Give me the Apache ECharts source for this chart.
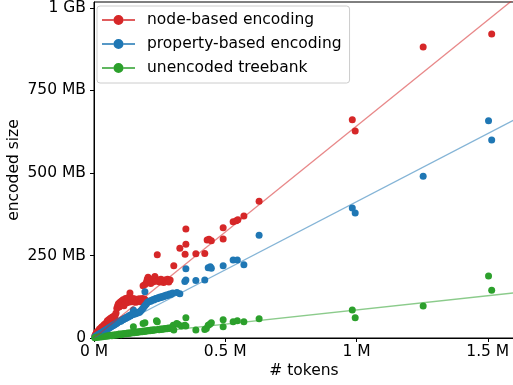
<!DOCTYPE html>
<html>
<head>
<meta charset="utf-8">
<script src="https://cdn.jsdelivr.net/npm/echarts@6/dist/echarts.min.js"></script>
<style>html,body{margin:0;padding:0;background:#fff}#c{width:513px;height:385px}</style>
</head>
<body>
<div id="c"></div>
<script>
// tokens (millions) vs encoded size (MB)
const seriesNames = ['node-based encoding', 'property-based encoding', 'unencoded treebank'];
const seriesColors = ['#d62728', '#1f77b4', '#2ca02c'];
const fitLineColors = ['rgba(214,39,40,0.55)', 'rgba(31,119,180,0.55)', 'rgba(44,160,44,0.55)'];

const nodeBased = [
 [0.003,6],[0.006,11],[0.009,15],[0.012,19],[0.015,16],[0.018,23],[0.021,27],[0.024,25],[0.027,31],[0.030,34],
 [0.033,30],[0.036,37],[0.039,41],[0.042,38],[0.045,44],[0.048,47],[0.051,52],[0.054,49],[0.057,56],[0.060,54],
 [0.063,60],[0.066,58],[0.069,63],[0.072,61],[0.075,66],[0.078,64],[0.081,70],[0.084,76],
 [0.087,90],[0.090,98],[0.093,104],[0.096,94],[0.099,108],[0.102,100],[0.105,112],[0.108,104],[0.111,116],[0.114,98],
 [0.117,110],[0.120,120],[0.123,106],[0.126,114],[0.129,122],[0.132,108],[0.137,136],[0.140,116],[0.144,110],[0.148,120],
 [0.152,112],[0.156,118],[0.160,108],[0.164,116],[0.168,112],[0.172,119],[0.176,110],[0.180,116],[0.184,120],[0.188,112],
 [0.192,118],[0.196,114],
 [0.187,158],[0.194,162],[0.200,170],[0.203,178],[0.206,184],[0.209,168],[0.212,174],[0.216,165],[0.220,176],[0.224,170],
 [0.228,180],[0.232,186],[0.236,172],[0.241,252],[0.245,176],[0.250,170],[0.255,178],[0.260,172],[0.265,168],[0.270,176],
 [0.275,172],[0.280,178],[0.285,170],[0.290,176],
 [0.304,219],[0.327,272],[0.347,254],[0.350,284],[0.350,330],[0.388,255],[0.422,256],[0.431,297],[0.438,299],[0.447,295],
 [0.492,300],[0.492,334],[0.530,352],[0.542,355],[0.548,358],[0.571,370],[0.629,414],[0.984,661],[0.995,627],[1.254,882],
 [1.515,921]
];
const propertyBased = [
 [0.003,3],[0.006,5],[0.009,6],[0.012,8],[0.015,9],[0.018,11],[0.021,12],[0.024,14],[0.027,15],[0.030,17],
 [0.033,18],[0.036,20],[0.039,21],[0.042,23],[0.045,24],[0.048,26],[0.051,27],[0.054,29],[0.057,30],[0.060,32],
 [0.063,33],[0.066,35],[0.069,36],[0.072,38],[0.075,39],[0.078,41],[0.081,42],[0.084,44],[0.087,45],[0.090,47],
 [0.093,49],[0.096,50],[0.099,52],[0.102,51],[0.105,54],[0.108,56],[0.111,55],[0.114,58],[0.117,60],[0.120,59],
 [0.123,62],[0.126,64],[0.129,63],[0.132,66],[0.135,68],[0.138,67],[0.141,70],[0.144,72],[0.150,85],[0.148,71],
 [0.152,74],[0.156,73],[0.160,76],[0.164,75],[0.168,78],[0.172,77],[0.176,80],[0.180,84],[0.184,88],[0.188,92],
 [0.192,96],[0.194,140],[0.196,100],[0.200,104],[0.204,108],[0.208,110],[0.212,112],[0.216,111],[0.220,114],[0.224,116],
 [0.228,115],[0.232,118],[0.236,120],[0.240,119],[0.244,122],[0.248,121],[0.252,124],[0.256,123],[0.260,126],[0.264,125],
 [0.268,128],[0.272,127],[0.276,130],[0.280,129],[0.284,131],[0.288,133],[0.292,132],[0.296,134],[0.300,136],[0.316,138],
 [0.327,134],
 [0.346,171],[0.350,176],[0.350,210],[0.388,174],[0.422,176],[0.435,213],[0.443,216],[0.447,211],[0.492,219],[0.530,236],
 [0.546,236],[0.571,222],[0.629,311],[0.984,394],[0.995,379],[1.254,490],[1.503,658],[1.515,600]
];
const unencoded = [
 [0.003,1],[0.008,2],[0.013,2],[0.018,3],[0.023,3],[0.028,4],[0.033,4],[0.038,5],[0.043,5],[0.048,6],
 [0.053,6],[0.058,7],[0.063,8],[0.068,7],[0.073,9],[0.078,8],[0.083,10],[0.088,9],[0.093,11],[0.098,12],
 [0.103,10],[0.108,13],[0.113,12],[0.118,14],[0.123,13],[0.128,15],[0.133,14],[0.138,16],[0.143,15],[0.148,17],
 [0.150,34],[0.153,16],[0.158,18],[0.163,17],[0.168,19],[0.173,18],[0.178,20],[0.183,19],[0.187,44],[0.188,21],
 [0.193,20],[0.194,46],[0.198,22],[0.203,21],[0.208,23],[0.213,22],[0.218,24],[0.223,23],[0.228,25],[0.233,24],
 [0.238,52],[0.241,49],[0.243,26],[0.248,25],[0.253,27],[0.258,26],[0.263,28],[0.268,27],[0.273,29],[0.278,28],
 [0.283,30],[0.288,29],[0.293,31],[0.298,30],[0.302,39],[0.304,24],[0.315,44],[0.320,42],
 [0.333,36],[0.346,39],[0.350,36],[0.350,61],[0.388,24],[0.422,26],[0.428,29],[0.435,39],[0.441,42],[0.447,46],
 [0.492,55],[0.492,34],[0.530,49],[0.546,52],[0.571,49],[0.629,58],[0.984,85],[0.995,61],[1.254,97],[1.503,188],
 [1.515,145]
];
// linear fits: size = slope * tokens + intercept
const fitSlopes = [642, 413, 86];
const fitIntercepts = [0, 0, -1];

const xTicks = [0, 0.5, 1, 1.5];
const yTicks = [0, 250, 500, 750, 1000];
const xMax = 1.6, yMax = 1018;

const FONT = 'DejaVu Sans';
const FS = 15.5;
const allData = [nodeBased, propertyBased, unencoded];

const legendIcon = 'path://M0,4.3H11.5V5.7H0Z M21.5,4.3H33V5.7H21.5Z M11.5,5A5,5 0 1,1 21.5,5A5,5 0 1,1 11.5,5Z';

const series = [];
allData.forEach((d, i) => {
  series.push({
    name: seriesNames[i], type: 'scatter', data: d,
    symbol: 'circle', symbolSize: 7,
    itemStyle: { color: seriesColors[i], opacity: 1 },
    z: 2, silent: true
  });
  series.push({
    name: seriesNames[i] + ' fit', type: 'line',
    data: [[0, fitIntercepts[i]], [xMax, fitIntercepts[i] + fitSlopes[i] * xMax]],
    showSymbol: false, symbol: 'none',
    lineStyle: { color: fitLineColors[i], width: 1.3 },
    z: 3, silent: true, clip: true
  });
});

const chart = echarts.init(document.getElementById('c'), null, { renderer: 'canvas' });
chart.setOption({
  animation: false,
  backgroundColor: '#fff',
  textStyle: { fontFamily: FONT },
  grid: { left: 94, top: 2, width: 420, height: 336, containLabel: false, outerBoundsMode: 'none',
    show: true, borderColor: '#000', borderWidth: 1, backgroundColor: 'transparent' },
  legend: {
    data: seriesNames.map((n, i) => ({ name: n, icon: legendIcon, itemStyle: { color: seriesColors[i] } })),
    orient: 'vertical', left: 97, top: 6,
    itemWidth: 33, itemHeight: 10, itemGap: 8,
    padding: [6, 8, 7, 5],
    borderColor: '#cccccc', borderWidth: 1, borderRadius: 3,
    backgroundColor: 'rgba(255,255,255,0.8)',
    textStyle: { fontFamily: FONT, fontSize: FS, color: '#000', lineHeight: 15, padding: [0, 0, 0, 7] },
    selectedMode: false
  },
  xAxis: {
    type: 'value', min: 0, max: xMax,
    name: '# tokens', nameLocation: 'middle', nameGap: 25, nameMoveOverlap: false,
    nameTextStyle: { fontFamily: FONT, fontSize: FS, color: '#000' },
    axisLine: { show: true, lineStyle: { color: '#000', width: 1 } },
    axisTick: { show: true, inside: false, length: 4, customValues: xTicks, lineStyle: { color: '#000' } },
    axisLabel: { customValues: xTicks, margin: 6, alignMinLabel: 'center', alignMaxLabel: 'center',
      fontFamily: FONT, fontSize: FS, color: '#000', formatter: v => v + ' M' },
    splitLine: { show: false }
  },
  yAxis: {
    type: 'value', min: 0, max: yMax,
    name: 'encoded size', nameLocation: 'middle', nameGap: 72, nameRotate: 90, nameMoveOverlap: false,
    nameTextStyle: { fontFamily: FONT, fontSize: FS, color: '#000' },
    axisLine: { show: true, lineStyle: { color: '#000', width: 1 } },
    axisTick: { show: true, inside: false, length: 4, customValues: yTicks, lineStyle: { color: '#000' } },
    axisLabel: { customValues: yTicks, margin: 8, verticalAlignMinLabel: 'middle', verticalAlignMaxLabel: 'middle',
      fontFamily: FONT, fontSize: FS, color: '#000',
      formatter: v => v === 0 ? '0' : (v >= 1000 ? (v / 1000) + ' GB' : v + ' MB') },
    splitLine: { show: false }
  },
  series: series
});
</script>
</body>
</html>
